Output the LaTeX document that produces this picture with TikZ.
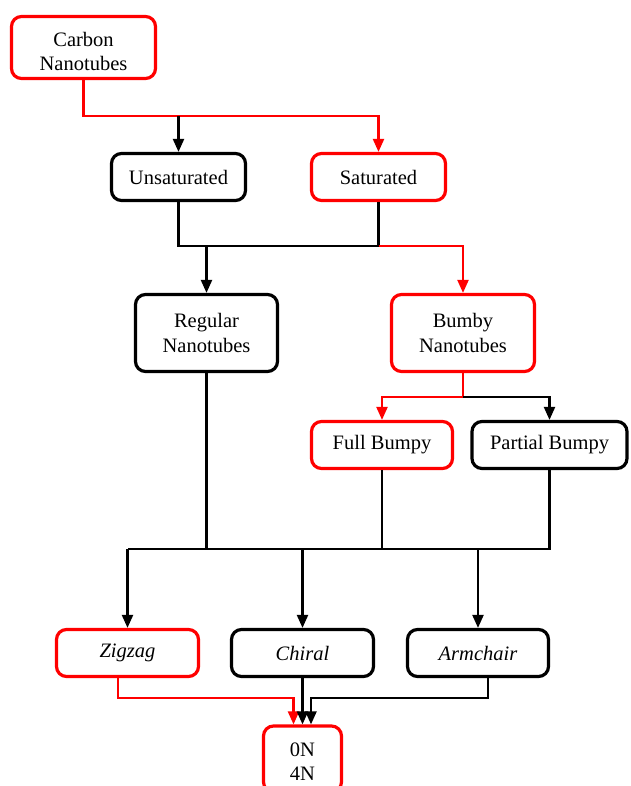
\documentclass[tikz,border=0pt]{standalone}
\usepackage{fontspec}
\setmainfont{Liberation Serif}
\usetikzlibrary{arrows.meta,calc}
\begin{document}
\begin{tikzpicture}[x=1pt,y=-1pt,
  box/.style={draw=black,line width=3.2pt,rounded corners=10pt,inner sep=0pt,align=center,
    font=\fontsize{20.5}{24.5}\selectfont,fill=white},
  rbox/.style={box,draw=red},
  conn/.style={line width=2.2pt,black},
  rconn/.style={line width=2.2pt,red},
  arr/.style={-{Triangle[length=13pt,width=11pt]}}]
\useasboundingbox (0,0) rectangle (630,786);
% nodes
\node[rbox,minimum width=144pt,minimum height=62pt] (cn) at (83.5,47.5) {\rule{0pt}{22pt}Carbon\\Nanotubes};
\node[box,minimum width=134pt,minimum height=47pt] (uns) at (178.5,177) {Unsaturated};
\node[rbox,minimum width=134pt,minimum height=47pt] (sat) at (378.5,177) {Saturated};
\node[box,minimum width=142pt,minimum height=77pt] (reg) at (206.5,333) {Regular\\Nanotubes};
\node[rbox,minimum width=143pt,minimum height=77pt] (bum) at (463,333) {Bumby\\Nanotubes};
\node[rbox,minimum width=141pt,minimum height=47pt] (full) at (382,445) {Full Bumpy};
\node[box,minimum width=155pt,minimum height=47pt] (part) at (549.5,445) {Partial Bumpy};
\node[rbox,minimum width=142pt,minimum height=47pt] (zig) at (127.5,653) {\itshape Zigzag};
\node[box,minimum width=142pt,minimum height=47pt] (chi) at (302.5,653) {\itshape Chiral};
\node[box,minimum width=141pt,minimum height=47pt] (arm) at (478,653) {\itshape Armchair};
\node[rbox,minimum width=78pt,minimum height=66pt] (on) at (302.5,759) {\rule{0pt}{19pt}0N\\4N};
% levels
\coordinate (h1) at (0,116);
\coordinate (h2) at (0,246);
\coordinate (h3) at (0,397);
\coordinate (h4) at (0,549);
\coordinate (h5) at (0,698);
\coordinate (zo) at ([xshift=-9.5pt]zig.south);
\coordinate (ao) at ([xshift=10pt]arm.south);
\coordinate (onl) at ([xshift=-9pt]on.north);
\coordinate (onr) at ([xshift=8.5pt]on.north);
% connectors
\draw[rconn,arr] (cn.south) -- (cn.south |- h1) -| (sat.north);
\draw[conn,arr] (uns.north |- h1) -- (uns.north);
\draw[conn] (uns.south) |- (sat.south |- h2) -- (sat.south);
\draw[rconn,arr] (sat.south |- h2) -| (bum.north);
\draw[conn,arr] (reg.north |- h2) -- (reg.north);
\draw[rconn] (bum.south) -- (bum.south |- h3);
\draw[rconn,arr] (bum.south |- h3) -| (full.north);
\draw[conn,arr] (bum.south |- h3) -| (part.north);
\draw[conn] (reg.south) -- (reg.south |- h4);
\draw[conn] (full.south) -- (full.south |- h4);
\draw[conn] (part.south) |- (zig.north |- h4);
\draw[conn,arr] (zig.north |- h4) -- (zig.north);
\draw[conn,arr] (chi.north |- h4) -- (chi.north);
\draw[conn,arr] (arm.north |- h4) -- (arm.north);
\draw[rconn,arr] (zo) |- (onl |- h5) -- (onl);
\draw[conn,arr] (chi.south) -- (on.north);
\draw[conn,arr] (ao) |- (onr |- h5) -- (onr);
\end{tikzpicture}
\end{document}
